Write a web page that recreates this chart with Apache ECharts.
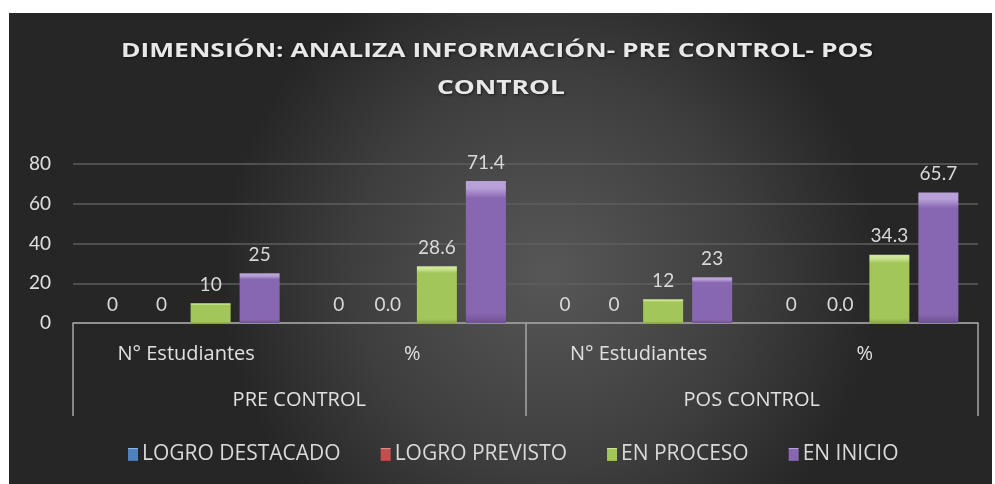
<!DOCTYPE html>
<html>
<head>
<meta charset="utf-8">
<script src="https://cdn.jsdelivr.net/npm/echarts@6/dist/echarts.min.js"></script>
<style>
  html, body { margin: 0; padding: 0; background: #ffffff; }
  #chart { width: 995px; height: 484px; }
</style>
</head>
<body>
<div id="chart"></div>
<script>
const titleLines = ['DIMENSIÓN: ANALIZA INFORMACIÓN- PRE CONTROL- POS', 'CONTROL'];
const subCategories = ['N° Estudiantes', '%', 'N° Estudiantes', '%'];
const groups = ['PRE CONTROL', 'POS CONTROL'];
const seriesNames = ['LOGRO DESTACADO', 'LOGRO PREVISTO', 'EN PROCESO', 'EN INICIO'];
const logroDestacado = [0, 0, 0, 0];
const logroPrevisto = [0, 0.0, 0, 0.0];
const enProceso = [10, 28.6, 12, 34.3];
const enInicio = [25, 71.4, 23, 65.7];
// decimals shown in each value label (per series, per category)
const labelDecimals = [
  [0, 0, 0, 0],
  [0, 1, 0, 1],
  [0, 1, 0, 1],
  [0, 1, 0, 1]
];
const yTicks = [0, 20, 40, 60, 80];

const baseColors = ['#4f81bd', '#c0504d', '#a3c65a', '#8867b1'];
const lightColors = ['#8fb3e0', '#e08c89', '#cde596', '#b8a0d8'];
const darkColors = ['#3a6598', '#9a3a38', '#8aa947', '#6f5196'];

function barStyle(i) {
  return {
    color: new echarts.graphic.LinearGradient(0, 0, 0, 1, [
      { offset: 0, color: lightColors[i] },
      { offset: 0.05, color: lightColors[i] },
      { offset: 0.12, color: baseColors[i] },
      { offset: 0.93, color: baseColors[i] },
      { offset: 1, color: darkColors[i] }
    ]),
    borderWidth: 0
  };
}

const allData = [logroDestacado, logroPrevisto, enProceso, enInicio];

const chart = echarts.init(document.getElementById('chart'), null, { renderer: 'canvas' });
const font = 'Lato, "Open Sans", sans-serif';
const font2 = '"Open Sans", sans-serif';

const titleStyle = {
  font: 'bold 20px "Open Sans", sans-serif',
  fill: '#e8e8e8',
  textAlign: 'center',
  textVerticalAlign: 'middle',
  textShadowColor: 'rgba(0,0,0,0.6)',
  textShadowBlur: 3,
  textShadowOffsetX: 1,
  textShadowOffsetY: 1
};

const option = {
  backgroundColor: '#ffffff',
  graphic: [{
    type: 'rect',
    z: -10,
    silent: true,
    shape: { x: 9, y: 13, width: 983, height: 471 },
    style: {
      fill: new echarts.graphic.RadialGradient(0.55, 0.55, 0.7, [
        { offset: 0, color: '#575757' },
        { offset: 0.6, color: '#3e3e3e' },
        { offset: 1, color: '#262626' }
      ])
    }
  }, {
    type: 'text',
    x: 497,
    y: 51,
    scaleX: 1.32,
    silent: true,
    style: Object.assign({ text: titleLines[0] }, titleStyle)
  }, {
    type: 'text',
    x: 501,
    y: 88,
    scaleX: 1.32,
    silent: true,
    style: Object.assign({ text: titleLines[1] }, titleStyle)
  }],
  legend: {
    bottom: 14,
    left: 123,
    icon: 'rect',
    itemWidth: 10,
    itemHeight: 13,
    itemGap: 40,
    data: seriesNames,
    textStyle: { color: '#d9d9d9', fontSize: 21, fontFamily: font2, padding: [0, 0, 0, -1] }
  },
  grid: { left: 73, right: 17, top: 164, bottom: 161, containLabel: false },
  xAxis: [{
    type: 'category',
    data: subCategories,
    axisLine: { show: true, lineStyle: { color: '#a6a6a6', width: 1.5 } },
    axisTick: { show: false },
    axisLabel: { color: '#e0e0e0', fontSize: 20, fontFamily: font2, margin: 21 }
  }, {
    type: 'category',
    data: groups,
    position: 'bottom',
    axisLine: { show: false },
    axisTick: { show: true, length: 93, alignWithLabel: false, interval: 0, lineStyle: { color: '#a6a6a6', width: 1.5 } },
    axisLabel: { color: '#e0e0e0', fontSize: 20, fontFamily: font2, margin: 67 }
  }],
  yAxis: {
    type: 'value',
    min: yTicks[0],
    max: yTicks[yTicks.length - 1],
    interval: 20,
    axisLine: { show: false },
    axisTick: { show: false },
    splitLine: { lineStyle: { color: '#5e5e5e', width: 1.5 } },
    axisLabel: { color: '#e0e0e0', fontSize: 19, fontFamily: font, margin: 22 }
  },
  series: seriesNames.map((name, i) => ({
    name: name,
    type: 'bar',
    xAxisIndex: 0,
    barWidth: 40,
    barGap: '22.5%',
    data: allData[i],
    itemStyle: barStyle(i),
    label: {
      show: true,
      position: 'top',
      distance: 9,
      color: '#d9d9d9',
      fontSize: 19,
      fontFamily: font,
      formatter: p => Number(p.value).toFixed(labelDecimals[i][p.dataIndex])
    }
  }))
};
chart.setOption(option);
</script>
</body>
</html>
